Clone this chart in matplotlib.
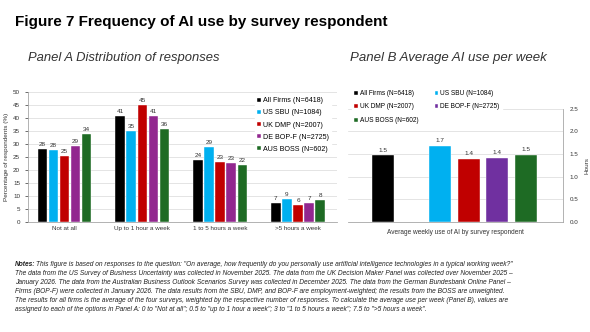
import matplotlib
matplotlib.use("Agg")
import matplotlib.pyplot as plt
import numpy as np

plt.rcParams['font.family'] = ['Liberation Sans', 'DejaVu Sans']

# survey series
surveys = ['All Firms (N=6418)', 'US SBU (N=1084)', 'UK DMP (N=2007)',
           'DE BOP-F (N=2725)', 'AUS BOSS (N=602)']
colors_a = ['#000000', '#00B0F0', '#C00000', '#92278F', '#1E6B24']
colors_b = ['#000000', '#00B0F0', '#C00000', '#7030A0', '#1E6B24']

# Panel A: share of respondents per frequency bucket (%)
buckets = ['Not at all', 'Up to 1 hour a week', '1 to 5 hours a week', '>5 hours a week']
all_firms = [28.2, 40.7, 23.9, 7.4]
us_sbu = [27.7, 35.1, 28.7, 8.7]
uk_dmp = [25.4, 44.9, 23.2, 6.4]
de_bopf = [29.2, 40.9, 22.6, 7.3]
aus_boss = [33.7, 35.8, 22.1, 8.4]
panel_a = [all_firms, us_sbu, uk_dmp, de_bopf, aus_boss]

# Panel B: average hours of AI use per week
avg_hours = [1.47, 1.68, 1.40, 1.41, 1.48]

fig = plt.figure(figsize=(5.9, 3.32), dpi=100)

fig.text(0.025, 0.935, 'Figure 7 Frequency of AI use by survey respondent',
         fontsize=11, fontweight='bold', va='center', ha='left')
fig.text(0.048, 0.825, 'Panel A Distribution of responses', fontsize=9.4,
         style='italic', color='#333333', va='center')
fig.text(0.593, 0.825, 'Panel B Average AI use per week', fontsize=9.5,
         style='italic', color='#333333', va='center')

gray = '#A6A6A6'
grid = '#D9D9D9'

# ---- Panel A ----
ax1 = fig.add_axes([0.047, 0.331, 0.524, 0.392])
x = np.arange(len(buckets))
step = 0.142
w = 0.12
for i, (vals, name, c) in enumerate(zip(panel_a, surveys, colors_a)):
    bars = ax1.bar(x + (i - 2) * step, vals, w, color=c, label=name,
                   edgecolor='white', linewidth=0.3, zorder=3)
    ax1.bar_label(bars, fmt='%.0f', fontsize=4.6, padding=1.5, color='#333333')
ax1.set_ylim(0, 50)
ax1.set_xlim(-0.47, 3.5)
ax1.set_yticks(np.arange(0, 51, 5))
ax1.set_xticks(x)
ax1.set_xticklabels(buckets)
ax1.tick_params(axis='both', labelsize=4.5, colors='#333333', length=2, width=0.5)
ax1.tick_params(axis='x', length=0, pad=3)
ax1.yaxis.grid(True, color=grid, linewidth=0.5, zorder=0)
ax1.set_axisbelow(True)
for s in ['top', 'right']:
    ax1.spines[s].set_visible(False)
for s in ['left', 'bottom']:
    ax1.spines[s].set_color(gray)
    ax1.spines[s].set_linewidth(0.6)
ax1.set_ylabel('Percentage of respondents (%)', fontsize=4.6, color='#333333', labelpad=3)
leg1 = ax1.legend(loc='upper left', bbox_to_anchor=(0.735, 0.975), fontsize=5.1,
                  frameon=True, framealpha=1, edgecolor='white', fancybox=False,
                  handlelength=0.5, handleheight=0.5, handletextpad=0.3,
                  labelspacing=0.72, borderpad=0.3, borderaxespad=0)
leg1.set_zorder(5)

# ---- Panel B ----
ax2 = fig.add_axes([0.590, 0.332, 0.364, 0.340])
pos_b = [0] + [2 + i for i in range(len(avg_hours) - 1)]
for p, v, name, c in zip(pos_b, avg_hours, surveys, colors_b):
    bars = ax2.bar(p, v, 0.78, color=c, label=name, edgecolor='white',
                   linewidth=0.3, zorder=3)
    ax2.bar_label(bars, fmt='%.1f', fontsize=4.6, padding=2, color='#333333')
ax2.set_ylim(0, 2.5)
ax2.set_xlim(-1.23, 6.3)
ax2.set_xticks([])
ax2.yaxis.tick_right()
ax2.yaxis.set_label_position('right')
ax2.set_yticks(np.arange(0, 2.51, 0.5))
ax2.set_yticklabels([f'{t:.1f}' for t in np.arange(0, 2.51, 0.5)])
ax2.tick_params(axis='y', labelsize=4.5, colors='#333333', length=0, pad=5)
ax2.yaxis.grid(True, color=grid, linewidth=0.5, zorder=0)
ax2.set_axisbelow(True)
for s in ['top', 'left']:
    ax2.spines[s].set_visible(False)
for s in ['right', 'bottom']:
    ax2.spines[s].set_color(gray)
    ax2.spines[s].set_linewidth(0.6)
ax2.set_ylabel('Hours', fontsize=4.6, color='#333333', labelpad=4)
ax2.set_xlabel('Average weekly use of AI by survey respondent', fontsize=4.7,
               color='#333333', labelpad=5)
h, l = ax2.get_legend_handles_labels()
order = [0, 2, 4, 1, 3]
leg2 = ax2.legend([h[k] for k in order], [l[k] for k in order], ncol=2,
                  loc='upper left', bbox_to_anchor=(0.02, 1.185), fontsize=4.7,
                  frameon=True, framealpha=1, edgecolor='white', fancybox=False,
                  handlelength=0.5, handleheight=0.5, handletextpad=0.3,
                  labelspacing=1.0, columnspacing=2.6, borderpad=0.3, borderaxespad=0)
leg2.set_zorder(5)

# ---- notes ----
notes = [
    '"On average, how frequently do you personally use artificial intelligence technologies in a typical working week?"',
    'The data from the US Survey of Business Uncertainty was collected in November 2025. The data from the UK Decision Maker Panel was collected over November 2025 \u2013',
    'January 2026. The data from the Australian Business Outlook Scenarios Survey was collected in December 2025. The data from the German Bundesbank Online Panel \u2013',
    'Firms (BOP-F) were collected in January 2026. The data results from the SBU, DMP, and BOP-F are employment-weighted; the results from the BOSS are unweighted.',
    'The results for all firms is the average of the four surveys, weighted by the respective number of responses. To calculate the average use per week (Panel B), values are',
    'assigned to each of the options in Panel A: 0 to "Not at all"; 0.5 to "up to 1 hour a week"; 3 to "1 to 5 hours a week"; 7.5 to ">5 hours a week".',
]
note_size = 4.75
y0 = 1 - 265 / 332
dy = 8.9 / 332
lead = fig.text(0.025, y0, 'Notes:', fontsize=note_size, style='italic',
                fontweight='bold', va='center', color='#222222')
fig.canvas.draw()
bb = lead.get_window_extent(renderer=fig.canvas.get_renderer())
fig.text(bb.x1 / fig.bbox.width + 0.002, y0,
         'This figure is based on responses to the question: ' + notes[0],
         fontsize=note_size, style='italic', va='center', color='#222222')
for k, line in enumerate(notes[1:], start=1):
    fig.text(0.025, y0 - k * dy, line, fontsize=note_size, style='italic',
             va='center', color='#222222')

fig.savefig('out.png', dpi=100)
